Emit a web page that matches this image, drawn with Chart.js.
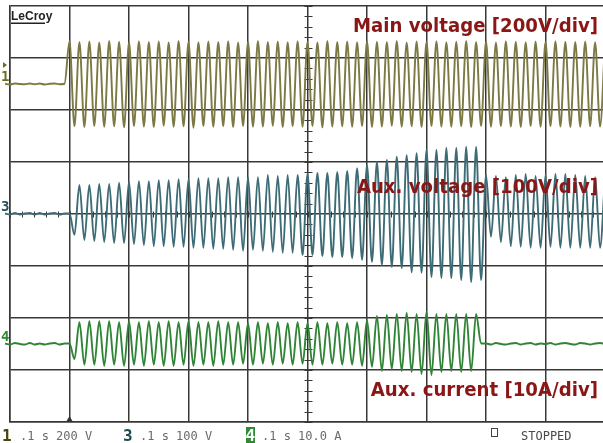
<!DOCTYPE html>
<html>
<head>
<meta charset="utf-8">
<script src="https://cdn.jsdelivr.net/npm/chart.js@4/dist/chart.umd.min.js"></script>
<style>
  html, body { margin: 0; padding: 0; background: #fff; overflow: hidden; }
  canvas { display: block; }
</style>
</head>
<body>
<canvas id="scope" width="603" height="443"></canvas>
<script>
// Time base: 0.1 s/div. Each sample is one half-cycle extreme of the 60 Hz signals,
// starting 13 half-cycles before the trigger at 0.1 s.
const TIME_PER_DIV_S = 0.1;
const HALF_CYCLE_S = 1 / 120;
const TRIGGER_S = 0.1;
const PRE_TRIGGER_SAMPLES = 13;

// Channel names and sensitivities
const channelLabels = ['Main voltage [200V/div]', 'Aux. voltage [100V/div]', 'Aux. current [10A/div]'];
const channelNumbers = ['1', '3', '4'];
const unitsPerDiv = [200, 100, 10];
const statusLabels = ['.1 s 200 V', '.1 s 100 V', '.1 s 10.0 A'];
const acquisitionState = 'STOPPED';

// Channel 1: main voltage (V)
const mainVoltageV = [
  1, -2, 2, 0, -1, 2, -1, 2, -2, 1, 2, -1, 1,
  165, -163, 162, -166, 164, -162, 160, -165, 166, -163,
  163, -167, 161, -162, 165, -164, 162, -166, 164, -161,
  160, -165, 166, -163, 163, -168, 161, -162, 164, -165,
  162, -163, 165, -166, 160, -162, 163, -165, 166, -164,
  162, -161, 164, -166, 161, -163, 165, -165, 163, -162,
  160, -167, 166, -164, 162, -163, 164, -165, 161, -162,
  165, -166, 163, -164, 162, -161, 166, -165, 160, -163,
  164, -166, 162, -162, 165, -164, 161, -165, 163, -163,
  166, -166, 162, -162, 164, -165, 160, -163, 165, -164,
  163, -166, 161, -162, 164, -165, 162, -163, 165, -164,
  163, -166, 162, -165, 164, -163, 161, -164, 165
];

// Channel 3: auxiliary voltage (V)
const auxVoltageV = [
  1, -1, 2, -1, 1, 2, -1, 2, -1, 1, 2, -1, 1,
  1, -40, 56, -50, 56, -52, 58, -54, 58, -56,
  60, -56, 62, -58, 63, -60, 63, -62, 65, -62,
  65, -63, 67, -63, 67, -65, 69, -65, 69, -67,
  69, -67, 71, -69, 71, -71, 71, -69, 71, -71,
  75, -73, 73, -75, 75, -75, 75, -79, 77, -79,
  79, -81, 79, -83, 81, -83, 83, -85, 88, -88,
  94, -92, 100, -98, 104, -102, 110, -104, 113, -112,
  117, -113, 123, -121, 123, -123, 127, -123, 127, -127,
  129, -131, 129, -127, 75, -44, 73, -54, 71, -62,
  75, -63, 77, -65, 73, -65, 75, -63, 77, -65,
  77, -65, 75, -65, 73, -65, 71, -65, 73
];

// Channel 4: auxiliary current (A)
const auxCurrentA = [
  0.1, -0.1, 0.2, 0, -0.1, 0.2, -0.1, 0.1, -0.1, 0.1, 0.2, -0.1, 0.1,
  0.1, -2.9, 4.2, -4.0, 4.4, -4.0, 4.4, -4.2, 4.4, -4.0,
  4.2, -4.2, 4.4, -4.0, 4.2, -4.2, 4.4, -4.0, 4.2, -4.2,
  4.4, -4.2, 4.2, -4.0, 4.4, -4.2, 4.2, -4.0, 4.2, -4.2,
  4.4, -4.0, 4.2, -4.0, 4.2, -3.8, 4.0, -4.0, 4.2, -3.8,
  4.0, -4.0, 4.2, -3.8, 4.0, -4.0, 4.2, -3.8, 4.0, -4.0,
  4.2, -4.0, 4.0, -3.8, 4.2, -4.0, 4.0, -4.0, 4.2, -4.2,
  4.6, -4.4, 5.4, -5.2, 5.6, -4.8, 5.8, -5.2, 6.0, -5.4,
  5.8, -5.8, 6.2, -6.0, 5.8, -5.4, 5.8, -5.2, 5.8, -5.4,
  5.8, -5.2, 5.8, 0.1, 0.1, -0.1, 0.2, 0, -0.1, 0.1,
  0.2, -0.1, 0.1, 0.2, -0.1, 0.1, 0, 0.2, -0.1, 0.1,
  0.2, 0, -0.1, 0.2, 0.1, -0.1, 0.1, 0.2, 0
];

const toPoints = values => values.map((v, i) => ({
  x: TRIGGER_S + (i - PRE_TRIGGER_SAMPLES) * HALF_CYCLE_S,
  y: v
}));

const GRID = '#383838';
const TRACE_COLORS = ['#7c7944', '#3e6c76', '#2f8436'];
const MARKER_COLORS = ['#6e6c24', '#24545e', '#2d8a33'];
const LABEL_RED = '#8a1616';
const OFFSETS_DIV = [2.5, 0, -2.5];

function channelAxis(i) {
  return {
    type: 'linear', display: false,
    min: (-4 - OFFSETS_DIV[i]) * unitsPerDiv[i],
    max: (4 - OFFSETS_DIV[i]) * unitsPerDiv[i]
  };
}

const scopeDecorations = {
  id: 'scopeDecorations',
  beforeDatasetsDraw(chart) {
    const { ctx, scales: { x, y } } = chart;
    ctx.save();
    ctx.strokeStyle = GRID;
    ctx.lineWidth = 1;
    ctx.beginPath();
    // minor ticks on the centre crosshair, 5 per division
    const cx = Math.round(x.getPixelForValue(0.5)) + 0.5;
    for (let d = -20; d <= 20; d++) {
      const py = Math.round(y.getPixelForValue(d / 5)) + 0.5;
      ctx.moveTo(cx - 4, py); ctx.lineTo(cx + 4, py);
    }
    const cy = Math.round(y.getPixelForValue(0)) + 0.5;
    for (let d = 0; d <= 50; d++) {
      const px = Math.round(x.getPixelForValue(d * TIME_PER_DIV_S / 5)) + 0.5;
      ctx.moveTo(px, cy - 3); ctx.lineTo(px, cy + 3);
    }
    ctx.stroke();
    // trigger position marker
    const tx = x.getPixelForValue(TRIGGER_S);
    const by = y.getPixelForValue(-4);
    ctx.fillStyle = '#333';
    ctx.beginPath();
    ctx.moveTo(tx - 3.5, by); ctx.lineTo(tx + 3.5, by); ctx.lineTo(tx, by - 6);
    ctx.closePath(); ctx.fill();
    ctx.restore();
  },
  afterDraw(chart) {
    const { ctx, scales: { x, y } } = chart;
    ctx.save();

    // LeCroy logo
    ctx.fillStyle = '#222';
    ctx.font = 'bold 12px "Liberation Sans", Arial, sans-serif';
    ctx.textBaseline = 'alphabetic';
    ctx.textAlign = 'left';
    ctx.fillText('LeCroy', 11, 20);
    ctx.fillRect(11, 22.5, 34, 1.5);

    // channel ground markers at the left edge
    ['ch1', 'ch3', 'ch4'].forEach((id, i) => {
      const zy = chart.scales[id].getPixelForValue(0);
      ctx.fillStyle = MARKER_COLORS[i];
      ctx.font = 'bold 14px "DejaVu Sans Mono", monospace';
      ctx.fillText(channelNumbers[i], 1, zy - 3);
      if (i === 0) {
        ctx.beginPath();
        ctx.moveTo(3, zy - 22); ctx.lineTo(7, zy - 19); ctx.lineTo(3, zy - 16);
        ctx.closePath(); ctx.fill();
      }
    });

    // channel captions, right aligned inside the grid
    ctx.fillStyle = LABEL_RED;
    ctx.font = 'bold 20px "DejaVu Sans", sans-serif';
    const squeeze = 245 / ctx.measureText(channelLabels[0]).width;
    const captionDiv = [3.5, 0.4, -3.5];
    const right = x.getPixelForValue(0.9966) - 5;
    channelLabels.forEach((txt, i) => {
      const w = ctx.measureText(txt).width * squeeze;
      ctx.save();
      ctx.translate(right - w, y.getPixelForValue(captionDiv[i]));
      ctx.scale(squeeze, 1);
      ctx.fillText(txt, 0, 0);
      ctx.restore();
    });

    // status line under the grid
    const base = 440;
    const numX = [2, 123, 246];
    const textX = [20, 140, 262];
    statusLabels.forEach((txt, i) => {
      ctx.font = 'bold 16px "DejaVu Sans Mono", monospace';
      if (i === 2) {
        ctx.fillStyle = '#2e8b34';
        ctx.fillRect(numX[i], 427, 9, 16);
        ctx.fillStyle = '#fff';
        ctx.fillText(channelNumbers[i], numX[i] - 0.5, base + 1);
      } else {
        ctx.fillStyle = i === 0 ? '#48480e' : '#1b4d55';
        ctx.fillText(channelNumbers[i], numX[i], base + 1);
      }
      ctx.font = '12px "DejaVu Sans Mono", monospace';
      ctx.fillStyle = '#6a6a6a';
      ctx.fillText(txt, textX[i], base);
    });
    ctx.strokeStyle = '#444';
    ctx.lineWidth = 1;
    ctx.strokeRect(491.5, 428.5, 6, 8);
    ctx.fillStyle = '#4a4a4a';
    ctx.font = '12px "DejaVu Sans Mono", monospace';
    ctx.fillText(acquisitionState, 521, base);
    ctx.restore();
  }
};

const traceDataset = (values, i, axis) => ({
  data: toPoints(values),
  yAxisID: axis,
  borderColor: TRACE_COLORS[i],
  borderWidth: 1.9,
  pointRadius: 0,
  cubicInterpolationMode: 'monotone',
  clip: false,
  fill: false
});

new Chart(document.getElementById('scope'), {
  type: 'line',
  data: {
    datasets: [
      traceDataset(mainVoltageV, 0, 'ch1'),
      traceDataset(auxVoltageV, 1, 'ch3'),
      traceDataset(auxCurrentA, 2, 'ch4')
    ]
  },
  options: {
    responsive: false,
    animation: false,
    devicePixelRatio: 1,
    layout: { padding: { left: 10, top: 6, right: 0, bottom: 21 } },
    plugins: { legend: { display: false }, tooltip: { enabled: false } },
    scales: {
      x: {
        type: 'linear', min: 0, max: 0.9966,
        ticks: { display: false, stepSize: TIME_PER_DIV_S, includeBounds: false, autoSkip: false },
        grid: { color: GRID, lineWidth: 1.5, drawTicks: false },
        border: { display: true, color: GRID, width: 1.5 }
      },
      y: {
        type: 'linear', min: -4, max: 4,
        ticks: { display: false, stepSize: 1, autoSkip: false },
        grid: { color: GRID, lineWidth: 1.5, drawTicks: false },
        border: { display: true, color: GRID, width: 1.5 }
      },
      ch1: channelAxis(0),
      ch3: channelAxis(1),
      ch4: channelAxis(2)
    }
  },
  plugins: [scopeDecorations]
});
</script>
</body>
</html>
